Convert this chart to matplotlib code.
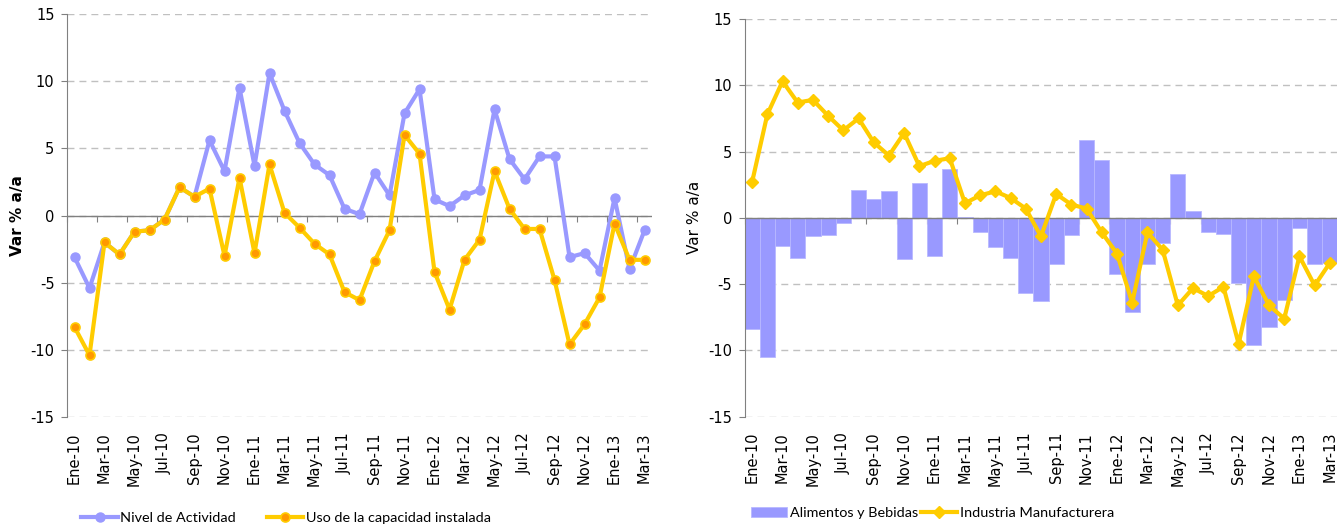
#!/usr/bin/env python3

import numpy as np
import matplotlib
matplotlib.use('Agg')
import matplotlib.pyplot as plt

plt.rcParams['font.family'] = 'DejaVu Sans'
plt.rcParams['axes.unicode_minus'] = False

# meses Ene-10 .. Mar-13
meses = ['Ene', 'Feb', 'Mar', 'Abr', 'May', 'Jun', 'Jul', 'Ago', 'Sep', 'Oct', 'Nov', 'Dic']
periodos = ['%s-%d' % (m, a) for a in (10, 11, 12, 13) for m in meses][:39]

nivel_actividad = [-3.1, -5.4, -2.0, -2.9, -1.2, -1.1, -0.3, 2.1, 1.4, 5.6,
                   3.3, 9.5, 3.7, 10.6, 7.8, 5.4, 3.8, 3.0, 0.5, 0.1,
                   3.2, 1.5, 7.6, 9.4, 1.2, 0.7, 1.5, 1.9, 7.9, 4.2,
                   2.7, 4.4, 4.4, -3.1, -2.8, -4.1, 1.3, -4.0, -1.1]
uso_capacidad = [-8.3, -10.4, -2.0, -2.9, -1.2, -1.1, -0.3, 2.1, 1.4, 2.0,
                 -3.0, 2.8, -2.8, 3.8, 0.2, -0.9, -2.1, -2.9, -5.7, -6.3,
                 -3.4, -1.1, 6.0, 4.6, -4.2, -7.0, -3.3, -1.8, 3.3, 0.5,
                 -1.0, -1.0, -4.8, -9.6, -8.1, -6.1, -0.6, -3.3, -3.3]

alimentos_bebidas = [-8.4, -10.5, -2.1, -3.0, -1.4, -1.3, -0.4, 2.1, 1.4, 2.0,
                     -3.1, 2.6, -2.9, 3.7, 0.1, -1.1, -2.2, -3.0, -5.7, -6.3,
                     -3.5, -1.3, 5.9, 4.4, -4.2, -7.1, -3.5, -1.9, 3.3, 0.5,
                     -1.1, -1.2, -4.9, -9.6, -8.2, -6.2, -0.8, -3.5, -3.4]
industria_manuf = [2.7, 7.8, 10.3, 8.7, 8.9, 7.7, 6.6, 7.5, 5.7, 4.7,
                   6.4, 3.9, 4.3, 4.5, 1.1, 1.7, 2.0, 1.5, 0.7, -1.4,
                   1.8, 1.0, 0.7, -1.1, -2.7, -6.4, -1.1, -2.4, -6.6, -5.3,
                   -5.9, -5.2, -9.5, -4.4, -6.6, -7.6, -2.9, -5.1, -3.4]

AZUL = '#9999FF'
AMARILLO = '#FFCC00'
NARANJA = '#FF9900'
GRIS = '#808080'


def preparar_ejes(ax, bold_label):
    n = len(periodos)
    x = np.arange(n)
    ax.set_xlim(-0.5, n - 0.5)
    ax.set_ylim(-15, 15)
    ax.set_yticks([-15, -10, -5, 0, 5, 10, 15])
    ax.yaxis.grid(True, color='#C0C0C0', linestyle=(0, (5, 3.6)), linewidth=1)
    ax.set_axisbelow(True)
    for s in ('top', 'right', 'bottom'):
        ax.spines[s].set_visible(False)
    ax.spines['left'].set_color(GRIS)
    ax.tick_params(axis='y', direction='out', length=4, color=GRIS, labelsize=10.5, pad=5)
    ax.set_xticks(x[::2])
    ax.set_xticklabels(periodos[::2], rotation=90, fontsize=10.5, family='DejaVu Sans')
    ax.tick_params(axis='x', length=0, pad=11)
    ax.axhline(0, color=GRIS, linewidth=1, zorder=2.5)
    # marcas del eje de categorias sobre la linea de cero
    eje0 = ax.secondary_xaxis(0.5)
    marcas = np.arange(-0.5, n, 2)
    eje0.set_xticks(marcas, labels=[''] * len(marcas))
    eje0.xaxis.set_ticks_position('bottom')
    eje0.tick_params(axis='x', direction='out', length=4, color=GRIS)
    for s in eje0.spines.values():
        s.set_visible(False)
    ax.set_ylabel('Var % a/a', fontsize=11, fontweight='bold' if bold_label else 'normal')
    ax.yaxis.set_label_coords(-0.072, 0.5)
    return x


fig = plt.figure(figsize=(13.4, 5.27), dpi=100)
ax1 = fig.add_axes([0.050, 0.2087, 0.4366, 0.7647])
ax2 = fig.add_axes([0.5556, 0.2093, 0.4425, 0.7546])

x = preparar_ejes(ax1, True)
ax1.plot(x, nivel_actividad, color=AZUL, linewidth=3, marker='o', markersize=6.5,
         markerfacecolor=AZUL, markeredgecolor=AZUL, label='Nivel de Actividad', zorder=3)
ax1.plot(x, uso_capacidad, color=AMARILLO, linewidth=3, marker='o', markersize=6.5,
         markerfacecolor=NARANJA, markeredgecolor=AMARILLO, markeredgewidth=1.2,
         label='Uso de la capacidad instalada', zorder=4)

x = preparar_ejes(ax2, False)
barras = ax2.bar(x, alimentos_bebidas, width=1.0, color=AZUL, edgecolor='#B8B8FF', linewidth=0.6,
                 label='Alimentos y Bebidas', zorder=2)
linea, = ax2.plot(x, industria_manuf, color=AMARILLO, linewidth=3, marker='D', markersize=6,
                  markerfacecolor=AMARILLO, markeredgecolor=AMARILLO, label='Industria Manufacturera', zorder=4)

fuente_leyenda = {'family': ['Lato', 'DejaVu Sans'], 'size': 10.4}
fig.legend(*ax1.get_legend_handles_labels(), loc='center', bbox_to_anchor=(286 / 1340, 1 - 518 / 527),
           ncol=2, frameon=False, prop=fuente_leyenda, handlelength=2.5, handletextpad=0.2,
           columnspacing=2.1)
fig.legend([barras, linea], ['Alimentos y Bebidas', 'Industria Manufacturera'], loc='center',
           bbox_to_anchor=(933 / 1340, 1 - 513 / 527),
           ncol=2, frameon=False, prop=fuente_leyenda, handlelength=2.5, handletextpad=0.2,
           columnspacing=0.2)

fig.savefig('out.png', dpi=100)
